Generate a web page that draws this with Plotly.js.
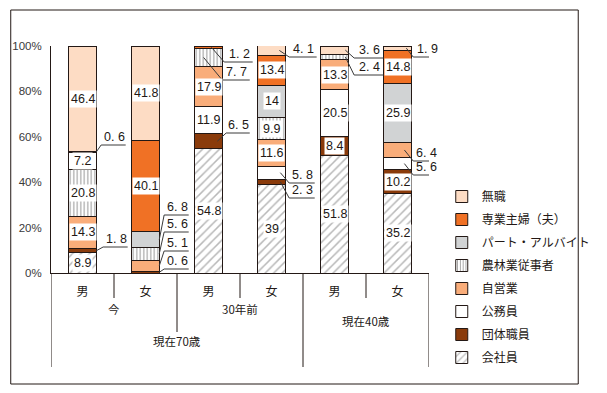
<!DOCTYPE html>
<html><head><meta charset="utf-8">
<script src="https://cdn.plot.ly/plotly-3.0.1.min.js"></script>
<style>html,body{margin:0;padding:0;background:#fff}#chart{width:607px;height:393px}</style>
</head><body><div id="chart"></div>
<script>
// ---- data ----
const barLabels = ['男','女','男','女','男','女'];
const periodLabels = ['今','30年前','現在40歳'];
const ageLabels = ['現在70歳'];
const seriesNames = ['会社員','団体職員','公務員','自営業','農林業従事者','パート・アルバイト','専業主婦（夫）','無職'];
const kaishain  = [8.9, null, 54.8, 39, 51.8, 35.2];
const dantai    = [1.8, 0.6, 6.5, 2.3, 8.4, 10.2];
const koumuin   = [null, null, 11.9, 5.8, 20.5, 5.6];
const jieigyo   = [14.3, 5.1, 17.9, 11.6, 13.3, 6.4];
const nourin    = [20.8, 5.6, 7.7, 9.9, 2.4, null];
const part      = [7.2, 6.8, null, 14, null, 25.9];
const sengyo    = [0.6, 40.1, 1.2, 13.4, null, 14.8];
const mushoku   = [46.4, 41.8, null, 4.1, 3.6, 1.9];
const seriesVals = [kaishain, dantai, koumuin, jieigyo, nourin, part, sengyo, mushoku];
const yTicks = [0, 20, 40, 60, 80, 100];
const yTickText = ['0%', '20%', '40%', '60%', '80%', '100%'];

// ---- styles ----
const NUMFONT = '"Liberation Sans Narrow","Liberation Sans",Arial,sans-serif';
const JPFONT = '"Noto Sans CJK JP","Noto Sans",sans-serif';
const GRAY = '#d1d3d4';
const styles = [
  {color:'#ffffff', pattern:{shape:'/', fgcolor:'#b8b8b8', bgcolor:'#ffffff', size:6, solidity:0.25}},
  {color:'#8a3b0b'},
  {color:'#ffffff'},
  {color:'#f9ad7a'},
  {color:'#ffffff', pattern:{shape:'|', fgcolor:'#9a9a9a', bgcolor:'#ffffff', size:3.5, solidity:0.3}},
  {color:['#ffffff',GRAY,GRAY,GRAY,GRAY,GRAY], legendColor:GRAY},
  {color:'#f07125'},
  {color:'#fddcc4'}
];

// layout geometry (pixels)
const ML=51, MR=171, MT=46, MB=120, W=607, H=393;
const X0=ML, X1=W-MR, Y0=H-MB, Y1=MT;
const ux = (X1-X0)/6;
const pxToX = (i, dpx) => i + dpx/ux;
const pyToY = py => (Y0-py)/(Y0-Y1)*100;
const pxToPaperX = px => (px-X0)/(X1-X0);
const pyToPaperY = py => (Y0-py)/(Y0-Y1);

const xs = barLabels.map((_, i) => i);
const traces = [];
seriesNames.forEach((name, k) => {
  const st = styles[k];
  const m = {color: st.color, line:{color:'#231815', width:1}};
  if (st.pattern) m.pattern = st.pattern;
  traces.push({type:'bar', name, x: xs, y: seriesVals[k], marker: m, width: 0.44,
          legendgroup: 'g'+k, legendrank: 100 - k, hoverinfo:'skip', showlegend: !st.legendColor});
  if (st.legendColor) {
    traces.push({type:'bar', name, x: xs, y: xs.map(() => null), width: 0.44,
      marker:{color: st.legendColor, line:{color:'#231815', width:1}},
      legendgroup: 'g'+k, legendrank: 100 - k, hoverinfo:'skip', showlegend:true});
  }
});

const cum = seriesVals.map(() => xs.map(() => [0,0]));
xs.forEach(i => {
  let c = 0;
  seriesVals.forEach((arr, k) => { const v = arr[i] || 0; cum[k][i] = [c, c+v]; c += v; });
});

// outside labels: [bar, series, startDx, elbowDx, elbowPy, endDx]
const outside = [
  [0,6, 14,19,145,44],[0,1, 14,21,247,46],
  [1,5, 14,19,215,44],[1,4, 14,19,232,44],[1,3, 14,19,251,44],[1,1, 14,19,269,44],
  [2,1, 9,18,133,42],[2,4, -5,14,80,42],[2,6, 3,16,62,45],
  [3,7, 8,18,57,46],[3,2, 9,18,183,44],[3,1, 9,18,198,44],
  [4,7, 11,20,58,50],[4,4, 11,20,75,50],
  [5,7, 9,16,57,44],[5,3, 7,16,161,42],[5,2, 7,16,175,42]
];
const outKey = new Set(outside.map(o => o[0]+'_'+o[1]));

const annotations = [];
const shapes = [];
seriesVals.forEach((arr, k) => arr.forEach((v, i) => {
  if (v == null || outKey.has(i+'_'+k)) return;
  annotations.push({x:i, y:(cum[k][i][0]+cum[k][i][1])/2, xref:'x', yref:'y', text:String(v),
    showarrow:false, bgcolor:'#ffffff', borderpad:1,
    font:{family:NUMFONT, size:12.5, color:'#231815'}});
}));
outside.forEach(([i,k,sdx,edx,epy,endx]) => {
  const v = seriesVals[k][i];
  const sy = (cum[k][i][0]+cum[k][i][1])/2;
  const ey = pyToY(epy);
  shapes.push({type:'path', xref:'x', yref:'y',
    path:`M${pxToX(i,sdx)},${sy} L${pxToX(i,edx)},${ey} L${pxToX(i,endx)},${ey}`,
    line:{color:'#3a3a3a', width:1}});
  annotations.push({x:pxToX(i,(edx+endx)/2+1), y:ey, xref:'x', yref:'y', yanchor:'bottom', yshift:-1,
    text:String(v).split('.').join('. '), showarrow:false,
    font:{family:NUMFONT, size:12.5, color:'#231815'}});
});

const lineC = '#231815';
const vline = (x, pyEnd) => ({type:'line', xref:'x', yref:'paper', x0:x, x1:x, y0:0, y1:pyToPaperY(pyEnd), line:{color:lineC, width:1}});
[0.5,2.5,4.5].forEach(x => shapes.push(vline(x, 298)));
shapes.push(vline(1.5, 332));
[-0.5,3.5,5.5].forEach(x => shapes.push(vline(x, 367)));
periodLabels.forEach((t, j) => {
  const py = j < 2 ? 319 : 331;
  annotations.push({x: 0.5 + 2*j, y: pyToPaperY(py), xref:'x', yref:'paper', text:t, showarrow:false,
    font:{family:JPFONT, size:11.5, color:'#231815'}});
});
annotations.push({x:1.5, y:pyToPaperY(351), xref:'x', yref:'paper', text:ageLabels[0], showarrow:false,
  font:{family:JPFONT, size:11.5, color:'#231815'}});
shapes.push({type:'rect', xref:'paper', yref:'paper', x0:pxToPaperX(10), x1:pxToPaperX(588),
  y0:pyToPaperY(384), y1:pyToPaperY(10), line:{color:lineC, width:1}});

const layout = {
  width:W, height:H, margin:{l:ML, r:MR, t:MT, b:MB, pad:0},
  paper_bgcolor:'#fff', plot_bgcolor:'#fff', barmode:'stack', showlegend:true,
  xaxis:{range:[-0.5,5.5], tickvals:xs, ticktext:barLabels, showgrid:false, zeroline:false,
    showline:true, linecolor:lineC, linewidth:1, ticks:'', ticklabelstandoff:8,
    tickfont:{family:JPFONT, size:12, color:'#231815'}, fixedrange:true},
  yaxis:{range:[0,100], tickvals:yTicks, ticktext:yTickText, showgrid:false, zeroline:false,
    showline:true, linecolor:lineC, linewidth:1, ticks:'', ticklabelstandoff:6,
    tickfont:{family:NUMFONT, size:11.5, color:'#3a3a3a'}, fixedrange:true},
  legend:{x:pxToPaperX(449), xanchor:'left', y:pyToPaperY(182), yanchor:'top',
    traceorder:'grouped', tracegroupgap:4, bgcolor:'rgba(0,0,0,0)',
    font:{family:JPFONT, size:12, color:'#231815'}, itemclick:false, itemdoubleclick:false},
  shapes, annotations
};
Plotly.newPlot('chart', traces, layout, {displayModeBar:false, staticPlot:true});
</script></body></html>
